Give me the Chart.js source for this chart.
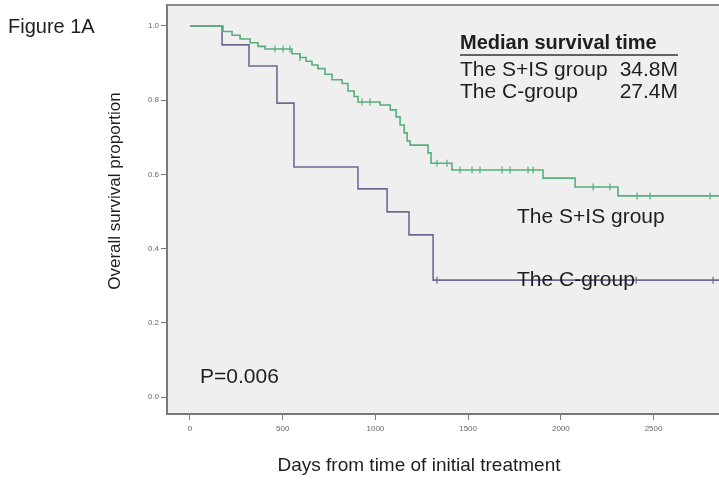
<!DOCTYPE html>
<html>
<head>
<meta charset="utf-8">
<script src="https://cdn.jsdelivr.net/npm/chart.js@4"></script>
<style>
  html, body { margin: 0; padding: 0; background: #fff; }
  canvas { display: block; }
</style>
</head>
<body>
<canvas id="km-chart" width="719" height="480"></canvas>
<script>
// Kaplan-Meier steps: day of each drop and survival after it
const sisDays = [0, 178, 227, 270, 324, 367, 405, 550, 593, 626, 658, 690, 728, 766, 820, 852, 885, 906, 1025, 1080, 1112, 1133, 1155, 1171, 1187, 1284, 1300, 1413, 1904, 2077, 2308, 2853];
const sisSurv = [1.0, 0.985, 0.975, 0.965, 0.955, 0.945, 0.938, 0.925, 0.915, 0.905, 0.895, 0.885, 0.87, 0.855, 0.845, 0.825, 0.81, 0.795, 0.787, 0.774, 0.755, 0.733, 0.712, 0.69, 0.679, 0.658, 0.63, 0.612, 0.59, 0.566, 0.542, 0.542];
const cDays = [0, 173, 318, 469, 561, 906, 1063, 1181, 1311, 2853];
const cSurv = [1.0, 0.949, 0.892, 0.792, 0.62, 0.561, 0.499, 0.437, 0.315, 0.315];

// censored patients
const sisCensored = [458, 502, 539, 593, 928, 971, 1332, 1386, 1456, 1521, 1564, 1683, 1726, 1823, 1850, 2174, 2265, 2411, 2481, 2805];
const cCensored = [1332, 2406, 2821];

const xTicks = [0, 500, 1000, 1500, 2000, 2500];
const yTicks = [0, 0.2, 0.4, 0.6, 0.8, 1.0];

const sisColor = '#55b07a';
const cColor = '#6c6c92';

function survAt(days, surv, t) {
    let v = surv[0];
    for (let i = 0; i < days.length; i++) {
        if (days[i] <= t) v = surv[i];
    }
    return v;
}

function stepData(days, surv) {
    return days.map((d, i) => ({ x: d, y: surv[i] }));
}

function censorData(days, surv, cens) {
    return cens.map(t => ({ x: t, y: survAt(days, surv, t) }));
}

// no extra room for the outer tick labels
function noPadding(s) {
    s.paddingLeft = 0;
    s.paddingRight = 0;
    s.paddingTop = 0;
    s.paddingBottom = 0;
}

// background of the plot, top frame line and all the text
const decorations = {
    id: 'decorations',
    beforeDraw(chart) {
        const { ctx, chartArea: a } = chart;
        ctx.save();
        ctx.fillStyle = '#efefef';
        ctx.fillRect(a.left, a.top, a.right - a.left, a.bottom - a.top);
        ctx.restore();
    },
    afterDraw(chart) {
        const { ctx, chartArea: a } = chart;
        ctx.save();
        ctx.strokeStyle = '#8a8a8a';
        ctx.lineWidth = 2;
        ctx.beginPath();
        ctx.moveTo(a.left, a.top);
        ctx.lineTo(a.right, a.top);
        ctx.stroke();

        ctx.fillStyle = '#1e1e1e';
        ctx.textBaseline = 'middle';
        ctx.textAlign = 'left';
        ctx.font = '20px "Liberation Sans", Arial, sans-serif';
        ctx.fillText('Figure 1A', 8, 27);

        ctx.font = '21px "Liberation Sans", Arial, sans-serif';
        ctx.fillText('P=0.006', 200, 377);
        ctx.fillText('The S+IS group', 517, 217);
        ctx.fillText('The C-group', 517, 280);

        // median survival table
        ctx.font = 'bold 20px "Liberation Sans", Arial, sans-serif';
        ctx.fillText('Median survival time', 460, 43);
        ctx.strokeStyle = '#333';
        ctx.lineWidth = 1.5;
        ctx.beginPath();
        ctx.moveTo(460, 55);
        ctx.lineTo(678, 55);
        ctx.stroke();
        ctx.font = '21px "Liberation Sans", Arial, sans-serif';
        ctx.fillText('The S+IS group', 460, 70);
        ctx.fillText('The C-group', 460, 92);
        ctx.textAlign = 'right';
        ctx.fillText('34.8M', 678, 70);
        ctx.fillText('27.4M', 678, 92);

        // axis titles
        ctx.textAlign = 'center';
        ctx.font = '19px "Liberation Sans", Arial, sans-serif';
        ctx.fillText('Days from time of initial treatment', 419, 466);
        ctx.translate(115, 191);
        ctx.rotate(-Math.PI / 2);
        ctx.font = '17px "Liberation Sans", Arial, sans-serif';
        ctx.fillText('Overall survival proportion', 0, 0);
        ctx.restore();
    }
};

document.addEventListener("DOMContentLoaded", function() {
    const ctx = document.getElementById("km-chart").getContext("2d");

    new Chart(ctx, {
        type: 'line',
        data: {
            datasets: [
                {
                    label: 'The S+IS group',
                    data: stepData(sisDays, sisSurv),
                    stepped: 'before',
                    borderColor: sisColor,
                    borderWidth: 1.6,
                    pointRadius: 0,
                    fill: false
                },
                {
                    label: 'The C-group',
                    data: stepData(cDays, cSurv),
                    stepped: 'before',
                    borderColor: cColor,
                    borderWidth: 1.6,
                    pointRadius: 0,
                    fill: false
                },
                {
                    label: 'S+IS censored',
                    data: censorData(sisDays, sisSurv, sisCensored),
                    showLine: false,
                    pointStyle: 'line',
                    rotation: 90,
                    pointRadius: 3.5,
                    pointBorderWidth: 1.2,
                    borderColor: sisColor
                },
                {
                    label: 'C censored',
                    data: censorData(cDays, cSurv, cCensored),
                    showLine: false,
                    pointStyle: 'line',
                    rotation: 90,
                    pointRadius: 3.5,
                    pointBorderWidth: 1.2,
                    borderColor: cColor
                }
            ]
        },
        options: {
            responsive: false,
            devicePixelRatio: 1,
            animation: false,
            layout: { autoPadding: false, padding: { top: 5, left: 0, right: 0, bottom: 0 } },
            plugins: {
                legend: { display: false },
                tooltip: { enabled: false }
            },
            scales: {
                x: {
                    type: 'linear',
                    min: -124,
                    max: 2853,
                    afterBuildTicks: s => { s.ticks = xTicks.map(v => ({ value: v })); },
                    afterFit: s => { s.height = 66; noPadding(s); },
                    ticks: {
                        color: '#666',
                        font: { size: 8, family: 'Liberation Sans' },
                        padding: 4,
                        maxRotation: 0,
                        callback: v => String(v)
                    },
                    grid: { drawOnChartArea: false, drawTicks: true, tickLength: 6, color: '#777' },
                    border: { display: true, color: '#7a7a7a', width: 2 }
                },
                y: {
                    min: -0.0458,
                    max: 1.0566,
                    afterBuildTicks: s => { s.ticks = yTicks.map(v => ({ value: v })); },
                    afterFit: s => { s.width = 167; noPadding(s); },
                    ticks: {
                        color: '#666',
                        font: { size: 8, family: 'Liberation Sans' },
                        padding: 2,
                        callback: v => v.toFixed(1)
                    },
                    grid: { drawOnChartArea: false, drawTicks: true, tickLength: 6, color: '#777' },
                    border: { display: true, color: '#7a7a7a', width: 2 }
                }
            }
        },
        plugins: [decorations]
    });
});
</script>
</body>
</html>
